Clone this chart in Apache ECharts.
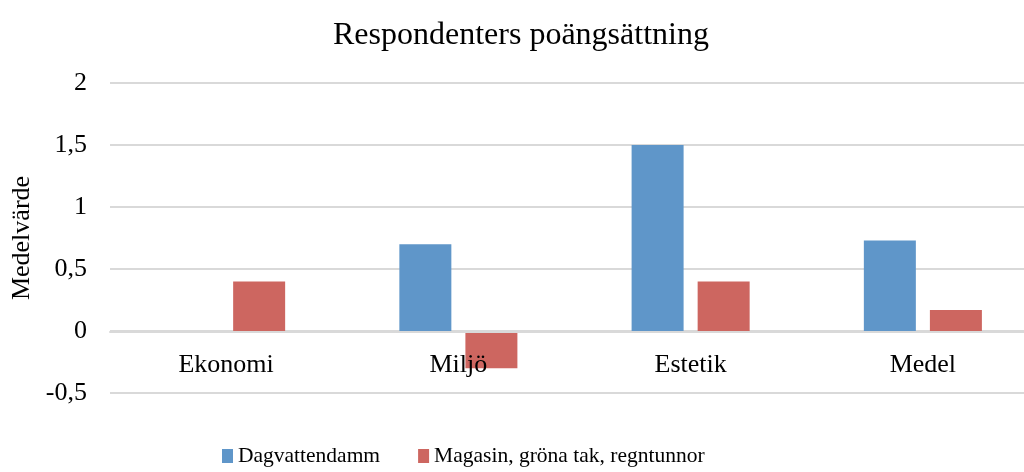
<!DOCTYPE html>
<html>
<head>
<meta charset="utf-8">
<title>Respondenters poängsättning</title>
<script src="https://cdn.jsdelivr.net/npm/echarts@6/dist/echarts.min.js"></script>
<style>
  html, body { margin: 0; padding: 0; background: #fff; }
  #chart { width: 1024px; height: 472px; }
</style>
</head>
<body>
<div id="chart"></div>
<script>
// kategorier och medelvärden
const categories = ['Ekonomi', 'Miljö', 'Estetik', 'Medel'];
const dagvattendamm = [0, 0.7, 1.5, 0.73];
const magasin = [0.4, -0.3, 0.4, 0.17];
const seriesNames = ['Dagvattendamm', 'Magasin, gröna tak, regntunnor'];

const font = '"Liberation Serif", "Times New Roman", serif';
const gridColor = '#d9d9d9';

const myChart = echarts.init(document.getElementById('chart'));
const option = {
  animation: false,
  title: {
    text: 'Respondenters poängsättning',
    left: 328,
    top: 15,
    textStyle: { fontFamily: font, fontSize: 32, fontWeight: 'normal', color: '#000' }
  },
  legend: {
    left: 217,
    top: 440,
    itemWidth: 11,
    itemHeight: 14,
    itemGap: 38,
    icon: 'rect',
    textStyle: { fontFamily: font, fontSize: 21.5, color: '#000' },
    data: seriesNames
  },
  grid: {
    left: 110,
    // diagrammet är beskuret till höger i originalet
    width: 929,
    top: 83,
    bottom: 79,
    outerBoundsMode: 'none'
  },
  xAxis: {
    type: 'category',
    data: categories,
    z: 5,
    // etiketterna ligger direkt under nollinjen
    offset: -61.5,
    axisTick: { show: false },
    axisLine: { onZero: false, lineStyle: { color: gridColor, width: 2 } },
    axisLabel: { fontFamily: font, fontSize: 26, color: '#000', margin: 21 }
  },
  yAxis: {
    type: 'value',
    min: -0.5,
    max: 2,
    interval: 0.5,
    name: 'Medelvärde',
    nameLocation: 'middle',
    nameGap: 75,
    nameRotate: 90,
    nameTextStyle: { fontFamily: font, fontSize: 26, color: '#000' },
    axisLine: { show: false },
    axisTick: { show: false },
    axisLabel: {
      fontFamily: font, fontSize: 26, color: '#000', margin: 23,
      formatter: v => String(v).replace('.', ',')
    },
    splitLine: { lineStyle: { color: gridColor, width: 2 } }
  },
  series: [
    {
      name: seriesNames[0],
      type: 'bar',
      data: dagvattendamm,
      barWidth: 52,
      barGap: '27%',
      itemStyle: { color: '#5f96c9' }
    },
    {
      name: seriesNames[1],
      type: 'bar',
      data: magasin,
      barWidth: 52,
      itemStyle: { color: '#cd6660' }
    }
  ]
};
myChart.setOption(option);
window.onresize = myChart.resize;
</script>
</body>
</html>
